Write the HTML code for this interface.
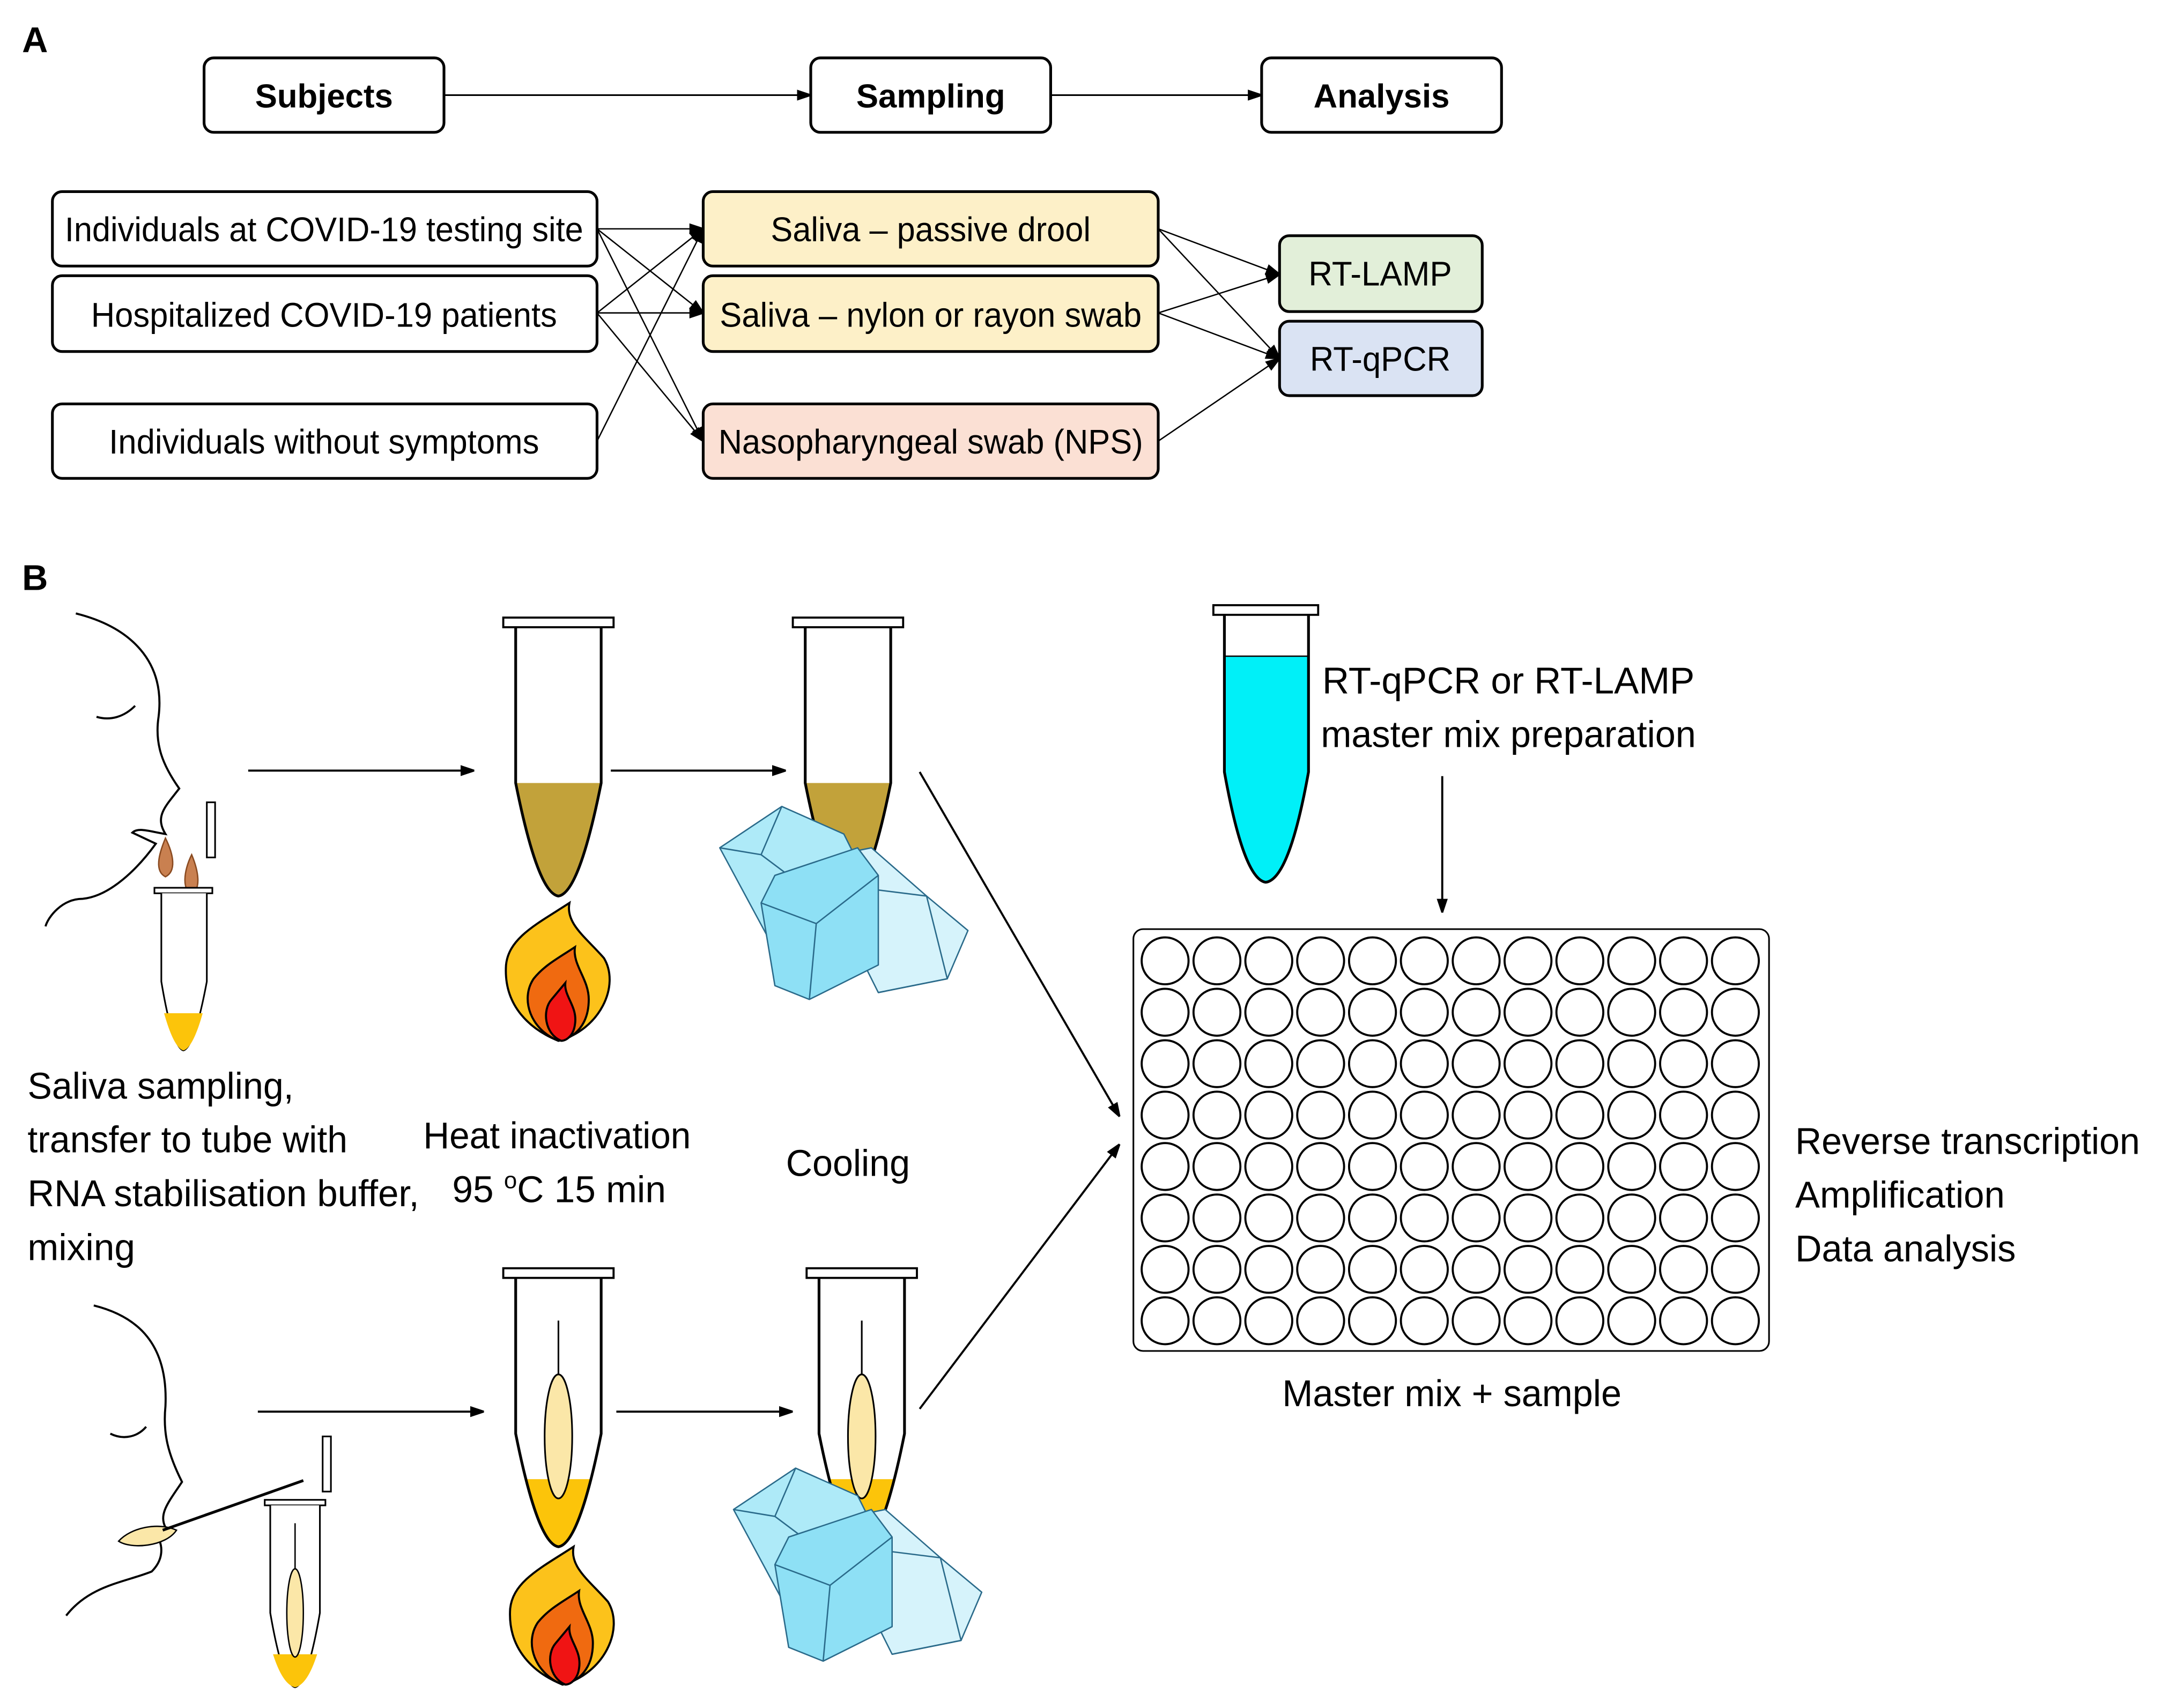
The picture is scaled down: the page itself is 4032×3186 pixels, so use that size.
<!DOCTYPE html>
<html><head><meta charset="utf-8"><style>html,body{margin:0;padding:0;background:#fff}svg{display:block}</style></head><body>
<svg xmlns="http://www.w3.org/2000/svg" width="4032" height="3186" viewBox="0 0 1568 1239" font-family="'Liberation Sans Narrow','Liberation Sans',sans-serif">
<defs>
<marker id="ar" markerWidth="10" markerHeight="8" refX="10" refY="4" orient="auto" markerUnits="userSpaceOnUse"><path d="M0,0 L12,4 L0,8 z" fill="#000"/></marker>
<clipPath id="tclip" clipPathUnits="userSpaceOnUse"><path d="M-31,7 L-31,120 Q-15,200 0,202 Q15,200 31,120 L31,7 z"/></clipPath>
<g id="tubeO"><rect x="-40" y="0" width="80" height="7" fill="#fff" stroke="#000" stroke-width="1.5"/><path d="M-31,7 L-31,120 Q-15,200 0,202 Q15,200 31,120 L31,7" fill="none" stroke="#000" stroke-width="2"/></g>
<g id="tubeB"><rect x="-35" y="120" width="70" height="90" fill="#c2a23a" clip-path="url(#tclip)"/><use href="#tubeO"/></g>
<g id="tubeY"><rect x="-35" y="153" width="70" height="60" fill="#fcc40a" clip-path="url(#tclip)"/><line x1="0" y1="38" x2="0" y2="80" stroke="#000" stroke-width="1.2"/><ellipse cx="0" cy="122" rx="10" ry="45" fill="#fbe7a8" stroke="#000" stroke-width="1.2"/><use href="#tubeO"/></g>
<g id="flame"><path d="M0,0 C-20,-8 -40,-25 -38,-55 C-36,-75 -15,-85 8,-100 C5,-85 20,-75 33,-60 C45,-40 30,-8 0,0 z" fill="#fcc21b" stroke="#000" stroke-width="1.5"/><path d="M0,0 C-20,-8 -28,-30 -18,-45 C-10,-55 0,-60 12,-68 C10,-55 22,-45 22,-30 C22,-12 12,-2 0,0 z" fill="#f06a10" stroke="#000" stroke-width="1.5"/><path d="M2,0 C-10,-5 -12,-22 -5,-30 L5,-42 C4,-32 14,-25 12,-12 C11,-4 6,0 2,0 z" fill="#f01414" stroke="#000" stroke-width="1.5"/></g>
<g id="ice" stroke="#2a6a8a" stroke-width="1" stroke-linejoin="round"><path d="M60,30 L110,20 L150,55 L180,80 L165,115 L115,125 L100,95 z" fill="#d6f3fb"/><path d="M110,50 L150,55 L165,115 L115,125" fill="none"/><path d="M0,20 L45,-10 L90,10 L110,50 L90,70 L35,85 z" fill="#aeeaf8"/><path d="M45,-10 L30,25 L0,20 M30,25 L90,70" fill="none"/><path d="M40,40 L100,20 L115,40 L115,105 L65,130 L40,120 L30,60 z" fill="#8ee0f5"/><path d="M30,60 L70,75 L115,40 M70,75 L65,130" fill="none"/></g>
</defs>
<g font-family="'Liberation Sans',sans-serif" font-weight="bold" font-size="26"><text x="16" y="38">A</text><text x="16" y="428">B</text></g>
<g fill="#fff" stroke="#000" stroke-width="2">
<rect x="148" y="42" width="174" height="54" rx="7"/><rect x="588" y="42" width="174" height="54" rx="7"/><rect x="915" y="42" width="174" height="54" rx="7"/>
</g>
<g font-family="'Liberation Sans',sans-serif" font-weight="bold" font-size="24" text-anchor="middle"><text x="235" y="78">Subjects</text><text x="675" y="78">Sampling</text><text x="1002" y="78">Analysis</text></g>
<g stroke="#000" stroke-width="1.2" marker-end="url(#ar)" fill="none"><line x1="322" y1="69" x2="588" y2="69"/><line x1="762" y1="69" x2="915" y2="69"/></g>
<g stroke="#000" stroke-width="2">
<rect x="38" y="139" width="395" height="54" rx="7" fill="#fff"/><rect x="38" y="200" width="395" height="55" rx="7" fill="#fff"/><rect x="38" y="293" width="395" height="54" rx="7" fill="#fff"/>
<rect x="510" y="139" width="330" height="54" rx="7" fill="#fdf0c8"/><rect x="510" y="200" width="330" height="55" rx="7" fill="#fdf0c8"/><rect x="510" y="293" width="330" height="54" rx="7" fill="#fbe0d4"/>
<rect x="928" y="171" width="147" height="55" rx="7" fill="#e2efd9"/><rect x="928" y="233" width="147" height="54" rx="7" fill="#dae3f3"/>
</g>
<g font-size="25" text-anchor="middle">
<text x="235" y="175" textLength="376" lengthAdjust="spacingAndGlyphs">Individuals at COVID-19 testing site</text>
<text x="235" y="237" textLength="338" lengthAdjust="spacingAndGlyphs">Hospitalized COVID-19 patients</text>
<text x="235" y="329" textLength="312" lengthAdjust="spacingAndGlyphs">Individuals without symptoms</text>
<text x="675" y="175" textLength="232" lengthAdjust="spacingAndGlyphs">Saliva – passive drool</text>
<text x="675" y="237" textLength="306" lengthAdjust="spacingAndGlyphs">Saliva – nylon or rayon swab</text>
<text x="675" y="329" textLength="308" lengthAdjust="spacingAndGlyphs">Nasopharyngeal swab (NPS)</text>
<text x="1001" y="207" textLength="104" lengthAdjust="spacingAndGlyphs">RT-LAMP</text>
<text x="1001" y="269" textLength="102" lengthAdjust="spacingAndGlyphs">RT-qPCR</text>
</g>
<g stroke="#000" stroke-width="1" fill="none" marker-end="url(#ar)">
<line x1="433" y1="166" x2="510" y2="166"/><line x1="433" y1="166" x2="510" y2="227"/><line x1="433" y1="166" x2="510" y2="320"/>
<line x1="433" y1="227" x2="510" y2="166"/><line x1="433" y1="227" x2="510" y2="227"/><line x1="433" y1="227" x2="510" y2="320"/>
<line x1="433" y1="320" x2="510" y2="166"/>
<line x1="840" y1="166" x2="928" y2="199"/><line x1="840" y1="166" x2="928" y2="260"/>
<line x1="840" y1="227" x2="928" y2="199"/><line x1="840" y1="227" x2="928" y2="260"/>
<line x1="840" y1="320" x2="928" y2="260"/>
</g>
<g fill="none" stroke="#000" stroke-width="1.5">
<path d="M55,445 C95,455 120,480 115,520 C112,540 118,555 130,572 C120,585 112,592 120,605 C108,603 100,600 96,604 L113,612 C100,630 80,650 60,652 C45,652 35,665 33,672"/>
<path d="M70,520 C80,523 90,520 98,512"/>
<path d="M68,947 C100,955 122,975 120,1020 C118,1040 122,1055 132,1075 C122,1090 115,1098 120,1108 L112,1112 C118,1118 120,1130 110,1140 C90,1148 65,1150 48,1172"/>
<path d="M80,1040 C90,1045 100,1042 106,1035"/>
</g>
<path d="M120,608 C115,620 112,632 120,636 C128,632 126,620 120,608 z" fill="#c98050" stroke="#8a4a20" stroke-width="1"/>
<path d="M139,620 C133,632 132,646 139,648 C146,645 144,632 139,620 z" fill="#c98050" stroke="#8a4a20" stroke-width="1"/>
<g stroke="#000" stroke-width="1.2" fill="#fff"><rect x="150" y="582" width="6" height="40"/><rect x="112" y="644" width="42" height="4"/></g>
<path d="M117,648 L117,712 Q125,760 133,762 Q141,760 150,712 L150,648" fill="#fff" stroke="#000" stroke-width="1.2"/>
<path d="M119,735 Q126,760 133,762 Q140,760 147,735 z" fill="#fcc40a"/>
<path d="M86,1118 C95,1108 115,1104 128,1110 C120,1122 95,1124 86,1118 z" fill="#fbe7a8" stroke="#000" stroke-width="1"/>
<line x1="118" y1="1110" x2="220" y2="1074" stroke="#000" stroke-width="2"/>
<g stroke="#000" stroke-width="1.2" fill="#fff"><rect x="234" y="1042" width="6" height="40"/><rect x="192" y="1088" width="44" height="4"/></g>
<path d="M196,1092 L196,1170 Q205,1222 214,1224 Q223,1222 232,1170 L232,1092" fill="#fff" stroke="#000" stroke-width="1.2"/>
<path d="M198,1200 Q205,1222 214,1224 Q223,1222 230,1200 z" fill="#fcc40a"/>
<line x1="214" y1="1105" x2="214" y2="1140" stroke="#000" stroke-width="1"/><ellipse cx="214" cy="1170" rx="6" ry="32" fill="#fbe7a8" stroke="#000" stroke-width="1"/>
<g stroke="#000" stroke-width="1.5" marker-end="url(#ar)" fill="none">
<line x1="180" y1="559" x2="344" y2="559"/><line x1="443" y1="559" x2="570" y2="559"/>
<line x1="187" y1="1024" x2="351" y2="1024"/><line x1="447" y1="1024" x2="575" y2="1024"/>
<line x1="667" y1="560" x2="812" y2="810"/><line x1="667" y1="1022" x2="812" y2="830"/>
<line x1="1046" y1="563" x2="1046" y2="662"/>
</g>
<use href="#tubeB" x="405" y="448"/>
<use href="#flame" x="405" y="755"/>
<use href="#tubeB" x="615" y="448"/>
<use href="#ice" x="522" y="595"/>
<use href="#tubeY" x="405" y="920"/>
<use href="#flame" x="408" y="1222"/>
<use href="#tubeY" x="625" y="920"/>
<use href="#ice" x="532" y="1075"/>
<rect x="880" y="439" width="76" height="7" fill="#fff" stroke="#000" stroke-width="1.5"/>
<path d="M888,476 L949,476 L949,560 Q935,638 918,640 Q902,638 888,560 z" fill="#00f0f8"/>
<path d="M888,446 L888,560 Q902,638 918,640 Q935,638 949,560 L949,446" fill="none" stroke="#000" stroke-width="2"/>
<line x1="888" y1="476" x2="949" y2="476" stroke="#000" stroke-width="1"/>
<rect x="822" y="674" width="461" height="306" rx="7" fill="#fff" stroke="#000" stroke-width="1.2"/>
<g id="row" fill="none" stroke="#000" stroke-width="1.5">
<circle cx="845" cy="697" r="17"/><circle cx="882.6" cy="697" r="17"/><circle cx="920.2" cy="697" r="17"/><circle cx="957.8" cy="697" r="17"/><circle cx="995.4" cy="697" r="17"/><circle cx="1033" cy="697" r="17"/><circle cx="1070.6" cy="697" r="17"/><circle cx="1108.2" cy="697" r="17"/><circle cx="1145.8" cy="697" r="17"/><circle cx="1183.4" cy="697" r="17"/><circle cx="1221" cy="697" r="17"/><circle cx="1258.6" cy="697" r="17"/>
</g>
<use href="#row" y="37.3"/><use href="#row" y="74.6"/><use href="#row" y="111.9"/><use href="#row" y="149.2"/><use href="#row" y="186.5"/><use href="#row" y="223.8"/><use href="#row" y="261.1"/>
<g font-size="27">
<text x="20" y="797" textLength="193" lengthAdjust="spacingAndGlyphs">Saliva sampling,</text>
<text x="20" y="836" textLength="232" lengthAdjust="spacingAndGlyphs">transfer to tube with</text>
<text x="20" y="875" textLength="284" lengthAdjust="spacingAndGlyphs">RNA stabilisation buffer,</text>
<text x="20" y="914" textLength="78" lengthAdjust="spacingAndGlyphs">mixing</text>
<text x="307" y="833" textLength="194" lengthAdjust="spacingAndGlyphs">Heat inactivation</text>
<text x="328" y="872">95 <tspan font-size="17" dy="-10">o</tspan><tspan dy="10">C 15 min</tspan></text>
<text x="570" y="853" textLength="90" lengthAdjust="spacingAndGlyphs">Cooling</text>
<text x="959" y="503" textLength="270" lengthAdjust="spacingAndGlyphs">RT-qPCR or RT-LAMP</text>
<text x="958" y="542" textLength="272" lengthAdjust="spacingAndGlyphs">master mix preparation</text>
<text x="930" y="1020" textLength="246" lengthAdjust="spacingAndGlyphs">Master mix + sample</text>
<text x="1302" y="837" textLength="250" lengthAdjust="spacingAndGlyphs">Reverse transcription</text>
<text x="1302" y="876" textLength="152" lengthAdjust="spacingAndGlyphs">Amplification</text>
<text x="1302" y="915" textLength="160" lengthAdjust="spacingAndGlyphs">Data analysis</text>
</g>
</svg>
</body></html>
